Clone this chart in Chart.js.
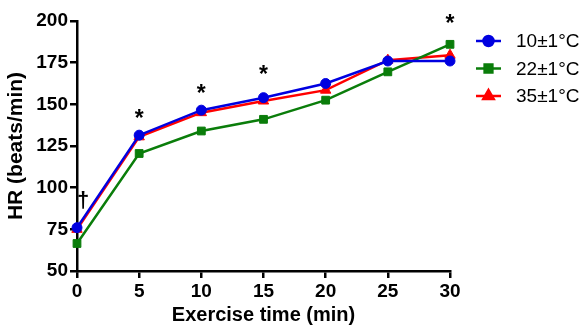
<!DOCTYPE html>
<html>
<head>
<meta charset="utf-8">
<script src="https://cdn.jsdelivr.net/npm/chart.js@4"></script>
<style>
  html, body { margin: 0; padding: 0; background: #fff; }
</style>
</head>
<body>
<canvas id="myChart" width="587" height="327"></canvas>
<script>
const times = [0, 5, 10, 15, 20, 25, 30];
const hr10 = [76, 131.5, 146.5, 154, 162.5, 176, 176];
const hr22 = [66.5, 120.5, 134, 141, 152.5, 169.5, 186];
const hr35 = [75, 130.5, 145, 152, 158.5, 176.5, 179.5];
const seriesNames = ['10\u00b11\u00b0C', '22\u00b11\u00b0C', '35\u00b11\u00b0C'];

// significance marks
const markText = ['\u2020', '*', '*', '*', '*'];
const markX = [0.5, 5, 10, 15, 30];
const markY = [92, 141, 156, 167, 198];

const FONT = '"Liberation Sans", Arial, sans-serif';

const toPts = (ys) => times.map((t, i) => ({ x: t, y: ys[i] }));

const marksPlugin = {
  id: 'marks',
  afterDatasetsDraw(chart) {
    const { ctx, scales: { x, y } } = chart;
    ctx.save();
    ctx.fillStyle = '#000';
    ctx.textAlign = 'center';
    ctx.textBaseline = 'middle';
    markText.forEach((txt, i) => {
      ctx.font = (txt === '*' ? 'bold 23px ' : 'bold 22px ') + FONT;
      ctx.fillText(txt, x.getPixelForValue(markX[i]), y.getPixelForValue(markY[i]));
    });
    ctx.restore();
  }
};

const legendPlugin = {
  id: 'sideLegend',
  afterDraw(chart) {
    const { ctx } = chart;
    ctx.save();
    chart.data.datasets.forEach((ds, i) => {
      const yy = 41 + i * 27.5;
      ctx.strokeStyle = ds.borderColor;
      ctx.lineWidth = 2.5;
      ctx.beginPath();
      ctx.moveTo(476, yy);
      ctx.lineTo(501, yy);
      ctx.stroke();
      Chart.helpers.drawPoint(ctx, {
        pointStyle: ds.pointStyle,
        radius: ds.pointRadius,
        borderWidth: 1
      }, 488.5, yy);
      ctx.fillStyle = ds.borderColor;
      ctx.fill();
      ctx.fillStyle = '#000';
      ctx.font = '19px ' + FONT;
      ctx.textAlign = 'left';
      ctx.textBaseline = 'middle';
      ctx.fillText(seriesNames[i], 516, yy + 1);
    });
    ctx.restore();
  }
};

const mkSet = (label, ys, color, style, r) => ({
  label,
  data: toPts(ys),
  borderColor: color,
  backgroundColor: color,
  borderWidth: 2.5,
  pointStyle: style,
  pointRadius: r,
  pointHoverRadius: r,
  pointBorderWidth: 1,
  tension: 0,
  clip: false
});

const ctx = document.getElementById('myChart');
new Chart(ctx, {
  type: 'line',
  data: {
    datasets: [
      mkSet(seriesNames[0], hr10, '#0000e0', 'circle', 5),
      mkSet(seriesNames[1], hr22, '#0a7d0a', 'rect', 5.5),
      mkSet(seriesNames[2], hr35, '#ff0000', 'triangle', 6)
    ]
  },
  options: {
    responsive: false,
    animation: false,
    layout: { padding: { left: 0, right: 137, top: 21, bottom: 0 } },
    plugins: { legend: { display: false }, tooltip: { enabled: false } },
    scales: {
      x: {
        type: 'linear',
        min: 0,
        max: 30,
        afterFit: (s) => { s.height = 56; },
        border: { display: true, color: '#000', width: 2.5 },
        grid: { drawOnChartArea: false, drawTicks: true, tickLength: 7, color: '#000', lineWidth: 2.5 },
        ticks: { stepSize: 5, color: '#000', padding: 2, font: { family: FONT, size: 19, weight: 'bold' } },
        title: { display: true, text: 'Exercise time (min)', color: '#000', padding: { top: 1, bottom: 0 },
                 font: { family: FONT, size: 20, weight: 'bold' } }
      },
      y: {
        min: 50,
        max: 200,
        afterFit: (s) => { s.width = 77; },
        border: { display: true, color: '#000', width: 2.5 },
        grid: { drawOnChartArea: false, drawTicks: true, tickLength: 7, color: '#000', lineWidth: 2.5 },
        ticks: { stepSize: 25, color: '#000', padding: 2, font: { family: FONT, size: 19, weight: 'bold' } },
        title: { display: true, text: 'HR (beats/min)', color: '#000', padding: { top: 4, bottom: 0 },
                 font: { family: FONT, size: 21, weight: 'bold' } }
      }
    }
  },
  plugins: [marksPlugin, legendPlugin]
});
</script>
</body>
</html>
